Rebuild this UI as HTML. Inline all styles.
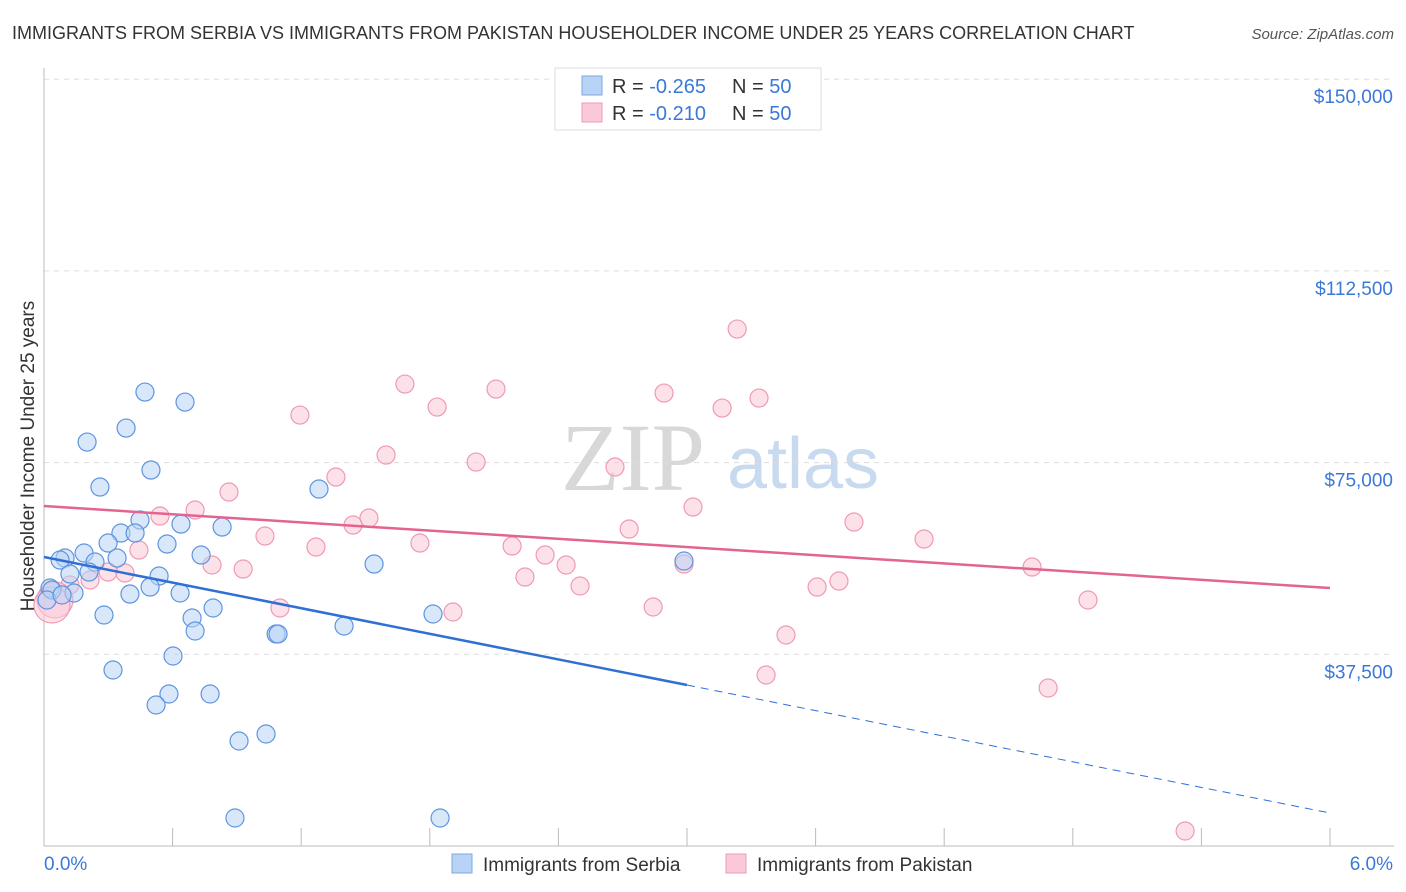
<!DOCTYPE html>
<html><head><meta charset="utf-8">
<style>
body{margin:0;background:#fff;font-family:"Liberation Sans",sans-serif;}
#wrap{position:relative;width:1406px;height:892px;overflow:hidden;}
</style></head>
<body>
<div id="wrap">
<svg id="svg" width="1406" height="892" xmlns="http://www.w3.org/2000/svg">
<text x="12" y="39" font-size="18" fill="#333">IMMIGRANTS FROM SERBIA VS IMMIGRANTS FROM PAKISTAN HOUSEHOLDER INCOME UNDER 25 YEARS CORRELATION CHART</text>
<text x="1394" y="39" font-size="15" font-style="italic" fill="#555" text-anchor="end">Source: ZipAtlas.com</text>
<g>
<text x="633" y="490" font-size="96" font-family="Liberation Serif,serif" fill="#d8d8d8" text-anchor="middle">ZIP</text>
<text x="803" y="488" font-size="72" fill="#c8daf0" text-anchor="middle">atlas</text>
</g>
<g id="grid"></g>
<g id="axes"></g>
<g id="pts"></g>
<g id="trend"></g>
<g>
<rect x="555" y="68" width="266" height="62" fill="#fff" stroke="#ddd"/>
<rect x="582" y="76" width="20" height="19" fill="#b8d3f5" stroke="#7ba7e0"/>
<rect x="582" y="103" width="20" height="19" fill="#fbc8d7" stroke="#ef9ab4"/>
<text x="612" y="93" font-size="20" fill="#333">R = <tspan fill="#3b78d8">-0.265</tspan><tspan x="732" fill="#333">N = </tspan><tspan fill="#3b78d8">50</tspan></text>
<text x="612" y="120" font-size="20" fill="#333">R = <tspan fill="#3b78d8"> -0.210</tspan><tspan x="732" fill="#333">N = </tspan><tspan fill="#3b78d8">50</tspan></text>
</g>
<g>
<rect x="452" y="854" width="20" height="19" fill="#b8d3f5" stroke="#7ba7e0"/>
<text x="483" y="871" font-size="19" fill="#333">Immigrants from Serbia</text>
<rect x="726" y="854" width="20" height="19" fill="#fbc8d7" stroke="#ef9ab4"/>
<text x="757" y="871" font-size="19" fill="#333">Immigrants from Pakistan</text>
</g>
<text transform="translate(34,456) rotate(-90)" font-size="19" fill="#333" text-anchor="middle">Householder Income Under 25 years</text>
</svg>
</div>
<script>
const serbiaX=[.471,.658,.383,.201,.499,.261,1.283,.448,.639,.831,.359,.425,.299,.574,.187,.098,.733,1.540,.238,.341,.075,2.986,.537,.210,.121,.028,.495,.401,.635,.140,.037,.014,.280,.789,.691,.705,1.083,1.092,1.400,1.815,.322,.602,.583,.775,.523,1.036,.910,.891,1.848,.084];
const serbiaY=[88802,86846,81761,79022,73546,70220,69829,63766,62983,62396,61223,61223,59267,59071,57311,56333,56920,55159,55550,56333,55942,55746,52812,53594,53203,50465,50660,49291,49487,49487,50074,48118,45184,46553,44597,42054,41467,41467,43032,45379,34426,37164,29731,29731,27580,21907,20538,5477,5477,49096];
const pakX=[3.234,1.684,2.109,2.893,3.336,1.834,3.164,1.194,1.596,2.016,2.664,1.362,.863,3.028,.705,.541,3.779,1.516,1.442,2.730,4.106,1.031,1.754,1.269,.443,2.184,2.338,.784,.929,2.436,2.986,4.610,.299,.378,2.244,3.709,3.607,2.501,.215,.121,4.871,2.842,1.101,1.908,3.462,4.685,3.369,.051,.037,5.324];
const pakY=[101125,90367,89389,88607,87629,85868,85673,84304,76480,75110,74132,72176,69242,66308,65722,64548,63374,64157,62788,62005,60049,60636,59267,58484,57898,58680,56920,54964,54181,54964,55159,54572,53594,53399,52616,51834,50660,50856,52030,51052,48118,46748,46553,45770,41272,30905,33448,48118,47140,2934];
const serbiaTrend=[56528,6455];
const pakTrend=[66504,50465];
const yTicks=[37500,75000,112500,150000];
const yTickLabels=["$37,500","$75,000","$112,500","$150,000"];
const xTicks=[0,.6,1.2,1.8,2.4,3,3.6,4.2,4.8,5.4,6];
const NS="http://www.w3.org/2000/svg";
const X=v=>44+v/6*1286, Y=v=>846-v/37500*191.7;
function mk(p,t,a){const e=document.createElementNS(NS,t);for(const k in a)e.setAttribute(k,a[k]);document.getElementById(p).appendChild(e);return e;}
yTicks.forEach((t,i)=>{
 const l=mk('grid','line',{x1:44,x2:1394,y1:Y(t),y2:Y(t),stroke:'#ddd','stroke-dasharray':'5,5'});
 
 
 const tx=mk('grid','text',{x:1393,y:Y(t)+24,'font-size':19,fill:'#3b78d8','text-anchor':'end'});
 tx.textContent=yTickLabels[i];
 
 
});
const ya=mk('axes','line',{x1:44,x2:44,y1:68,y2:846,stroke:'#bbb'});


const xa=mk('axes','line',{x1:44,x2:1394,y1:846,y2:846,stroke:'#bbb'});


xTicks.forEach(t=>{
 const l=mk('axes','line',{x1:X(t),x2:X(t),y1:828,y2:846,stroke:'#bbb'});
 
 
});
const xl0=mk('axes','text',{x:44,y:870,'font-size':19,fill:'#3b78d8'});xl0.textContent='0.0%';


const xl1=mk('axes','text',{x:1393,y:870,'font-size':19,fill:'#3b78d8','text-anchor':'end'});xl1.textContent='6.0%';


function pts(xs,ys,fill,stroke,name){xs.forEach((x,i)=>{
 const r=(x<0.06&&i>=xs.length-3)?(name==='pakistan-point'?18:13):9;
 const c=mk('pts','circle',{cx:X(x),cy:Y(ys[i]),r:r,fill:fill,'fill-opacity':0.55,stroke:stroke,'stroke-width':1.2});
 
 
});}
pts(pakX,pakY,'#fbc8d7','#ef9ab4','pakistan-point');
pts(serbiaX,serbiaY,'#b8d3f5','#5f95df','serbia-point');
const bx=3.0, by=serbiaTrend[0]+(serbiaTrend[1]-serbiaTrend[0])*bx/6;
const t1=mk('trend','line',{x1:X(0),y1:Y(serbiaTrend[0]),x2:X(bx),y2:Y(by),stroke:'#2f6fd6','stroke-width':2.5});


const t2=mk('trend','line',{x1:X(bx),y1:Y(by),x2:X(6),y2:Y(serbiaTrend[1]),stroke:'#2f6fd6','stroke-width':1,'stroke-dasharray':'8,6'});


const t3=mk('trend','line',{x1:X(0),y1:Y(pakTrend[0]),x2:X(6),y2:Y(pakTrend[1]),stroke:'#e3648f','stroke-width':2.5});


</script>
</body></html>
